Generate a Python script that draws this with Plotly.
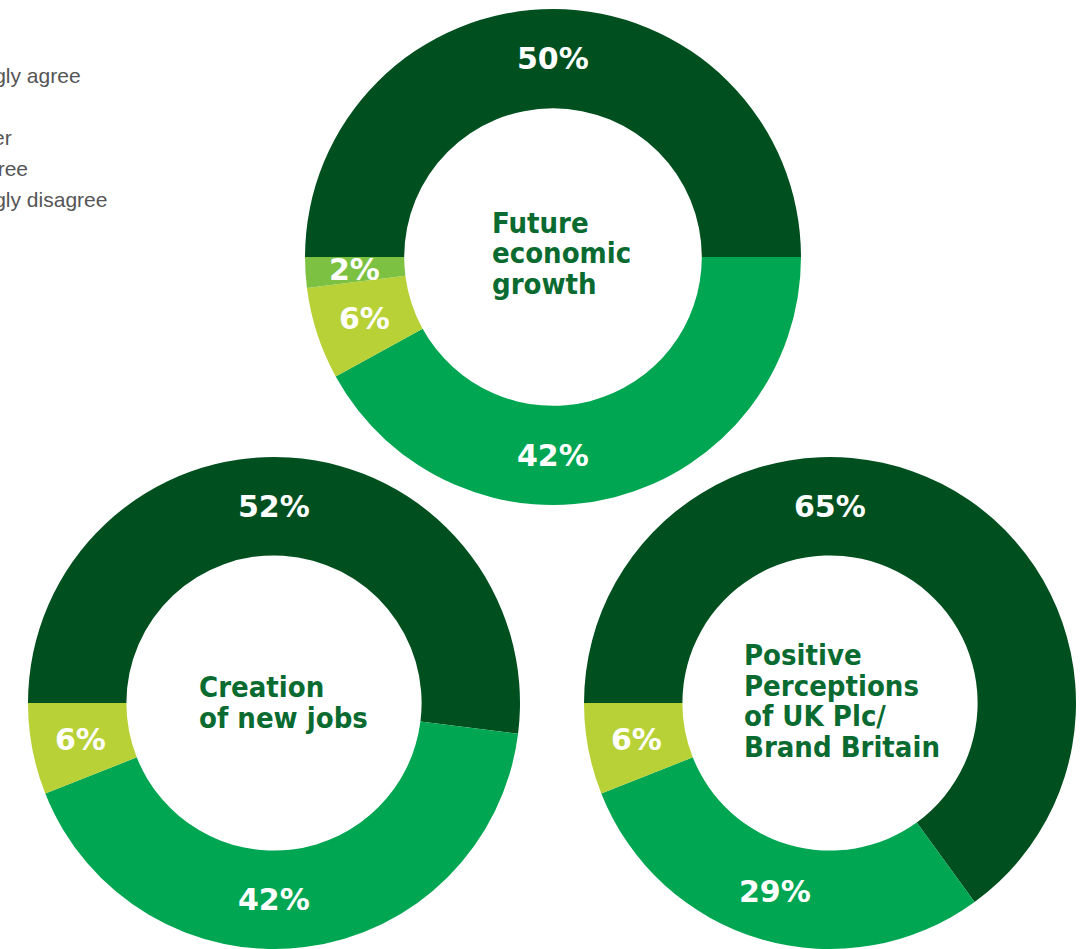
import math
import plotly.graph_objects as go

# ---------------- data ----------------
categories = ["Strongly agree", "Agree", "Neither", "Disagree", "Strongly disagree"]
chart_titles = [
    ["Future", "economic", "growth"],
    ["Creation", "of new jobs"],
    ["Positive", "Perceptions", "of UK Plc/", "Brand Britain"],
]
growth_values = [50, 42, 6, 2, 0]
jobs_values = [52, 42, 6, 0, 0]
brand_values = [65, 29, 6, 0, 0]
series_values = [growth_values, jobs_values, brand_values]

# ---------------- style / layout ----------------
W, H = 1081, 949
colors = ["#00501f", "#00a651", "#b8d136", "#7cc142", "#d7e6a0"]
HOLE = 0.6
# pie boxes in pixels: (left, top, right, bottom)
boxes = [(305, 9, 801, 505), (27, 457, 521, 949), (583, 457, 1077, 949)]
# title block: left x, first line centre y (pixels)
title_pos = [(490, 223), (197, 687), (742, 655)]
TITLE_LINE = 30.5
legend_x = -58
legend_y0 = 75
legend_step = 31

fig = go.Figure()
annotations = []

for vals, box, title, tpos in zip(series_values, boxes, chart_titles, title_pos):
    l, t, r, b = box
    fig.add_trace(go.Pie(
        labels=categories, values=vals, sort=False, direction="clockwise",
        rotation=270, hole=HOLE, textinfo="none", hoverinfo="label+percent",
        marker=dict(colors=colors, line=dict(width=0)), showlegend=False,
        domain=dict(x=[l / W, r / W], y=[1 - b / H, 1 - t / H]),
    ))
    cx, cy = (l + r) / 2, (t + b) / 2
    R = min(r - l, b - t) / 2
    rl = R * (1 + HOLE) / 2
    total = sum(vals)
    cum = 0
    for v in vals:
        if v <= 0:
            continue
        a0 = cum / total * 360
        a1 = (cum + v) / total * 360
        cum += v
        phi = (a0 + a1) / 2
        if v / total >= 0.4:
            for snap in (90, 270):
                if a0 <= snap <= a1:
                    phi = snap
                    break
        pr = math.radians(phi)
        px = cx - rl * math.cos(pr)
        py = cy - rl * math.sin(pr)
        annotations.append(dict(
            x=px / W, y=1 - py / H, xref="paper", yref="paper",
            text=f"{v}%", showarrow=False, xanchor="center", yanchor="middle",
            font=dict(family="DejaVu Sans", size=30, color="white", weight="bold"),
        ))
    tx, ty = tpos
    for i, line in enumerate(title):
        annotations.append(dict(
            x=tx / W, y=1 - (ty + i * TITLE_LINE) / H, xref="paper", yref="paper",
            text=line, showarrow=False, xanchor="left", yanchor="middle",
            font=dict(family="DejaVu Sans Condensed", size=29, color="#0a6b31", weight="bold"),
        ))

for i, cat in enumerate(categories):
    annotations.append(dict(
        x=legend_x / W, y=1 - (legend_y0 + i * legend_step) / H, xref="paper", yref="paper",
        text=cat, showarrow=False, xanchor="left", yanchor="middle",
        font=dict(family="Liberation Sans", size=21, color="#555555"),
    ))

fig.update_layout(
    width=W, height=H, margin=dict(l=0, r=0, t=0, b=0, autoexpand=False),
    paper_bgcolor="white", plot_bgcolor="white", annotations=annotations,
)
fig.write_html(
    "out.html",
    config={"displayModeBar": False},
    post_script="document.body.style.margin='0';document.body.style.overflow='hidden';",
)
